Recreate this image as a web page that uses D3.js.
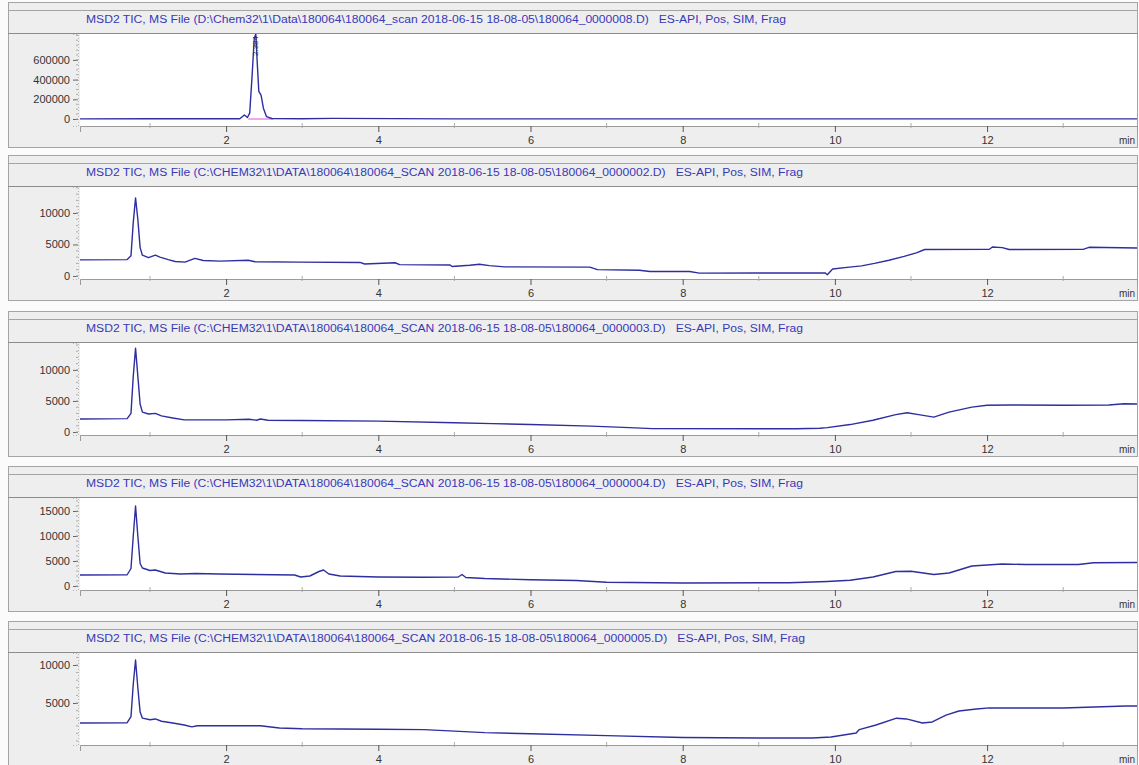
<!DOCTYPE html>
<head>
  <meta charset="utf-8">
  <script src="https://d3js.org/d3.v7.min.js"></script>
  <style>
    body { margin:0; background:#fbfbfb; }
    text { font-family: "Liberation Sans", Arial, sans-serif; }
  </style>
</head>

<body>
  <script>

// ---- data ----
var titles = [
  "MSD2 TIC, MS File (D:\\Chem32\\1\\Data\\180064\\180064_scan 2018-06-15 18-08-05\\180064_0000008.D)   ES-API, Pos, SIM, Frag",
  "MSD2 TIC, MS File (C:\\CHEM32\\1\\DATA\\180064\\180064_SCAN 2018-06-15 18-08-05\\180064_0000002.D)   ES-API, Pos, SIM, Frag",
  "MSD2 TIC, MS File (C:\\CHEM32\\1\\DATA\\180064\\180064_SCAN 2018-06-15 18-08-05\\180064_0000003.D)   ES-API, Pos, SIM, Frag",
  "MSD2 TIC, MS File (C:\\CHEM32\\1\\DATA\\180064\\180064_SCAN 2018-06-15 18-08-05\\180064_0000004.D)   ES-API, Pos, SIM, Frag",
  "MSD2 TIC, MS File (C:\\CHEM32\\1\\DATA\\180064\\180064_SCAN 2018-06-15 18-08-05\\180064_0000005.D)   ES-API, Pos, SIM, Frag"
]

var timeRange = [0.08, 13.97]
var xTicks = [2, 4, 6, 8, 10, 12]
var xMinorTicks = [1, 3, 5, 7, 9, 11, 13]

var yTicks = [
  [0, 200000, 400000, 600000],
  [0, 5000, 10000],
  [0, 5000, 10000],
  [0, 5000, 10000, 15000],
  [5000, 10000]
]
var yMinorStep = [50000, 1000, 1000, 1000, 1000]
var yDomains = [
  [-71000, 863000],
  [-480, 14120],
  [-480, 14330],
  [-800, 17600],
  [-530, 11580]
]

var peakLabel = { time: 2.38, text: "2.384" }
var peakBaseline = [[2.29, 0], [2.62, 0]]

var trace1 = [[0.08,1000],[1.0,3000],[2.0,2000],[2.18,3000],[2.24,40000],[2.28,15000],[2.31,60000],
  [2.34,420000],[2.37,820000],[2.39,860000],[2.41,560000],[2.43,280000],[2.46,240000],[2.49,110000],
  [2.53,25000],[2.6,5000],[3.0,3000],[3.4,6000],[5.0,1000],[8.0,1000],[11.0,1000],[13.97,1000]]

var trace2 = [[0.08,2550],[0.70,2600],[0.75,3200],[0.78,8500],[0.81,12400],[0.84,9000],[0.87,4500],
  [0.90,3300],[0.98,2900],[1.07,3300],[1.13,3000],[1.24,2600],[1.33,2300],[1.46,2200],[1.59,2800],
  [1.70,2450],[1.92,2350],[2.29,2500],[2.38,2250],[2.97,2200],[3.76,2150],[3.82,1900],[4.22,2100],
  [4.28,1800],[4.94,1750],[4.97,1500],[5.20,1700],[5.33,1850],[5.46,1650],[5.66,1450],[6.78,1400],
  [6.88,1000],[7.43,900],[7.57,700],[8.09,700],[8.22,450],[9.00,480],[9.87,500],[9.90,200],
  [9.97,1100],[10.19,1400],[10.35,1600],[10.52,2000],[10.71,2500],[10.91,3100],[11.08,3700],
  [11.18,4200],[12.03,4250],[12.07,4600],[12.20,4500],[12.29,4200],[13.27,4250],[13.34,4550],[13.97,4450]]

var trace3 = [[0.08,2100],[0.70,2150],[0.75,3000],[0.78,9000],[0.81,13500],[0.84,9000],[0.87,4500],
  [0.90,3200],[0.98,2900],[1.07,3000],[1.15,2600],[1.30,2250],[1.45,1950],[2.0,1950],[2.3,2050],
  [2.4,1900],[2.45,2100],[2.55,1900],[3.0,1850],[4.0,1750],[5.0,1500],[5.5,1350],[6.0,1200],
  [6.8,950],[7.3,700],[7.6,550],[9.5,520],[9.8,600],[9.9,700],[10.2,1200],[10.5,1900],[10.8,2800],
  [10.95,3100],[11.1,2800],[11.3,2400],[11.5,3200],[11.8,4000],[12.0,4300],[12.3,4350],[13.0,4300],
  [13.6,4350],[13.8,4550],[13.97,4500]]

var trace4 = [[0.08,2200],[0.70,2250],[0.75,3500],[0.78,10000],[0.81,16000],[0.84,10000],[0.87,4500],
  [0.90,3600],[1.0,3100],[1.07,3200],[1.2,2600],[1.4,2400],[1.6,2500],[1.9,2400],[2.9,2200],
  [2.98,1800],[3.1,2000],[3.22,2900],[3.28,3200],[3.35,2400],[3.5,2000],[4.0,1800],[4.6,1750],
  [5.05,1800],[5.1,2300],[5.15,1700],[5.4,1500],[6.0,1250],[6.6,1100],[7.0,750],[8.0,600],[9.4,650],
  [9.9,900],[10.2,1150],[10.5,1800],[10.8,2900],[11.0,2950],[11.3,2300],[11.5,2600],[11.8,4000],
  [12.2,4400],[12.5,4300],[13.2,4300],[13.4,4650],[13.97,4700]]

var trace5 = [[0.08,2370],[0.70,2400],[0.75,3200],[0.78,7500],[0.81,10650],[0.84,7000],[0.87,3800],
  [0.90,3000],[1.0,2800],[1.07,2900],[1.15,2600],[1.3,2370],[1.45,2100],[1.55,1850],[1.62,2000],
  [2.45,2000],[2.7,1700],[3.0,1600],[4.0,1550],[4.6,1500],[5.0,1300],[5.4,1100],[6.0,950],[7.0,700],
  [8.0,450],[9.0,400],[9.70,400],[9.95,530],[10.28,1050],[10.32,1500],[10.54,2100],[10.81,3000],
  [10.94,2900],[11.15,2370],[11.28,2500],[11.46,3400],[11.63,3950],[11.86,4200],[12.03,4350],
  [13.0,4350],[13.82,4600],[13.97,4600]]

var traces = [trace1, trace2, trace3, trace4, trace5]

// ---- layout ----
var W = 1139, H = 765
var titleY = [19, 172, 328, 483, 638]
var titleLen = [700, 717, 717, 717, 719]
var plotLeft = 80, plotRight = 1137

var svg = d3.select("body").append("svg")
  .attr("width", W)
  .attr("height", H)

svg.append("rect").attr("width", W).attr("height", H).attr("fill", "#fbfbfb")

var x = d3.scaleLinear().domain(timeRange).range([plotLeft, plotRight])

traces.forEach(function(data, i){
  var T = titleY[i]
  var top = T + 15, bottom = T + 107
  var g = svg.append("g")

  // panel frame
  g.append("rect")
    .attr("x", 8.5).attr("y", T - 16.5)
    .attr("width", W - 10).attr("height", 145)
    .attr("fill", "#eeeeee").attr("stroke", "#a4a4a4")
  g.append("line")
    .attr("x1", 8).attr("x2", W - 1).attr("y1", T - 8.5).attr("y2", T - 8.5)
    .attr("stroke", "#a4a4a4")
  g.append("line")
    .attr("x1", 8).attr("x2", W - 1).attr("y1", top - 0.5).attr("y2", top - 0.5)
    .attr("stroke", "#8c8c8c")

  g.append("text")
    .attr("x", 86).attr("y", T + 4)
    .attr("font-size", 10)
    .attr("fill", "#3838b8")
    .attr("textLength", titleLen[i])
    .attr("lengthAdjust", "spacingAndGlyphs")
    .style("white-space", "pre")
    .text(titles[i])

  // plot area
  g.append("rect")
    .attr("x", plotLeft).attr("y", top)
    .attr("width", plotRight - plotLeft).attr("height", bottom - top)
    .attr("fill", "#ffffff")

  var y = d3.scaleLinear().domain(yDomains[i]).range([bottom, top])

  // y axis
  var ya = g.append("g")
    .attr("transform", "translate(" + (plotLeft - 2) + ",0)")
    .call(d3.axisLeft(y).tickValues(yTicks[i]).tickSize(5).tickPadding(3).tickFormat(d3.format("d")))
  ya.select(".domain").attr("stroke", "#b8b8b8").attr("stroke-dasharray", "1,2")
  ya.selectAll(".tick line").attr("stroke", "#666")
  ya.selectAll("text").attr("font-size", 11).attr("fill", "#333").attr("font-family", "Liberation Sans, Arial")

  var minors = d3.range(0, yDomains[i][1], yMinorStep[i])
  g.selectAll(".ymin" + i).data(minors).enter().append("line")
    .attr("x1", plotLeft - 4).attr("x2", plotLeft - 2)
    .attr("y1", function(d){ return y(d) }).attr("y2", function(d){ return y(d) })
    .attr("stroke", "#aaa")

  // x axis
  var xa = g.append("g")
    .attr("transform", "translate(0," + bottom + ")")
    .call(d3.axisBottom(x).tickValues(xTicks).tickSize(6).tickPadding(4).tickFormat(d3.format("d")))
  xa.select(".domain").attr("stroke", "#9a9a9a")
  xa.selectAll(".tick line").attr("stroke", "#555")
  xa.selectAll("text").attr("font-size", 11).attr("fill", "#333").attr("font-family", "Liberation Sans, Arial")

  g.selectAll(".xmin" + i).data(xMinorTicks).enter().append("line")
    .attr("x1", function(d){ return x(d) }).attr("x2", function(d){ return x(d) })
    .attr("y1", bottom - 3).attr("y2", bottom + 2)
    .attr("stroke", "#aaa")

  g.append("text")
    .attr("x", 1127).attr("y", bottom + 18)
    .attr("text-anchor", "middle")
    .attr("font-size", 10).attr("fill", "#333")
    .text("min")

  // trace
  g.append("clipPath").attr("id", "clip" + i)
    .append("rect").attr("x", plotLeft).attr("y", top)
    .attr("width", plotRight - plotLeft).attr("height", bottom - top)

  var line = d3.line()
    .x(function(d){ return x(d[0]) })
    .y(function(d){ return y(d[1]) })

  if (i == 0) {
    g.append("path")
      .datum(peakBaseline)
      .attr("d", line)
      .attr("fill", "none").attr("stroke", "#e050e0").attr("stroke-width", 1)
  }

  g.append("path")
    .datum(data)
    .attr("clip-path", "url(#clip" + i + ")")
    .attr("d", line)
    .attr("fill", "none")
    .attr("stroke", "#2e2ea0")
    .attr("stroke-width", 1.4)
    .attr("stroke-linejoin", "round")

  if (i == 0) {
    g.append("text")
      .attr("transform", "translate(" + (x(peakLabel.time) + 3) + "," + (top + 2) + ") rotate(-90)")
      .attr("text-anchor", "end")
      .attr("font-size", 8).attr("fill", "#333")
      .text(peakLabel.text)
  }
})

  </script>
</body>
